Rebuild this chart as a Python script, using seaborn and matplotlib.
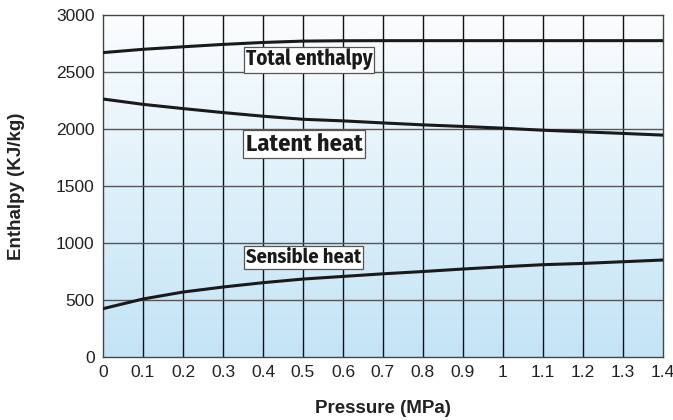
import numpy as np
import pandas as pd
import matplotlib
matplotlib.use("Agg")
import matplotlib.pyplot as plt
import seaborn as sns
from matplotlib.colors import LinearSegmentedColormap

# Data
pressure = [0, 0.1, 0.2, 0.3, 0.4, 0.5, 0.6, 0.7, 0.8, 0.9, 1.0, 1.1, 1.2, 1.3, 1.4]
total_enthalpy = [2671, 2700, 2722, 2743, 2760, 2772, 2775, 2776, 2776, 2776, 2776, 2776, 2776, 2776, 2776]
latent_heat = [2264, 2217, 2180, 2145, 2113, 2086, 2072, 2054, 2037, 2023, 2008, 1990, 1976, 1962, 1947]
sensible_heat = [424, 509, 570, 614, 652, 684, 707, 730, 750, 772, 792, 810, 821, 836, 851]

x_ticks = [0, 0.1, 0.2, 0.3, 0.4, 0.5, 0.6, 0.7, 0.8, 0.9, 1, 1.1, 1.2, 1.3, 1.4]
x_tick_labels = ["0", "0.1", "0.2", "0.3", "0.4", "0.5", "0.6", "0.7", "0.8", "0.9", "1", "1.1", "1.2", "1.3", "1.4"]
y_ticks = [0, 500, 1000, 1500, 2000, 2500, 3000]

df = pd.DataFrame({
    "pressure": pressure * 3,
    "enthalpy": total_enthalpy + latent_heat + sensible_heat,
    "series": ["Total enthalpy"] * 15 + ["Latent heat"] * 15 + ["Sensible heat"] * 15,
})

sns.set_style("white")
plt.rcParams["font.family"] = ["Liberation Sans", "DejaVu Sans"]

fig = plt.figure(figsize=(6.73, 4.2), dpi=100)
ax = fig.add_axes([0.153, 0.15, 0.832, 0.814])

# gradient background
cmap = LinearSegmentedColormap.from_list("bg", ["#c3e4f6", "#fbfdfe"])
grad = np.linspace(0, 1, 256).reshape(-1, 1)
ax.imshow(grad, aspect="auto", cmap=cmap, origin="lower",
          extent=[0, 1.4, 0, 3000], zorder=0)

sns.lineplot(data=df, x="pressure", y="enthalpy", units="series", estimator=None,
             color="#1a1a1a", linewidth=2.2, ax=ax, zorder=3)

ax.set_xlim(0, 1.4)
ax.set_ylim(0, 3000)
ax.set_xticks(x_ticks)
ax.set_xticklabels(x_tick_labels)
ax.set_yticks(y_ticks)
for x in x_ticks[1:-1]:
    ax.axvline(x, color="#111111", linewidth=1.0, zorder=1)
for y in y_ticks[1:-1]:
    ax.axhline(y, color="#555555", linewidth=1.0, zorder=1)

for s in ax.spines.values():
    s.set_color("#444444")
    s.set_linewidth(1.0)
ax.tick_params(axis="both", length=0, labelsize=12.5, colors="#222222", pad=6)

ax.set_xlabel("Pressure (MPa)", fontsize=13.5, fontweight="bold", labelpad=14, color="#222222")
ax.set_ylabel("Enthalpy (KJ/kg)", fontsize=13.5, fontweight="bold", labelpad=22, color="#222222")

narrow = ["Fira Sans Condensed", "Liberation Sans", "DejaVu Sans"]
box = dict(boxstyle="square,pad=0.1", facecolor="white", edgecolor="#555555", linewidth=0.9)
ax.text(0.357, 2610, "Total enthalpy", fontsize=15, fontweight="bold", family=narrow,
        va="center", ha="left", bbox=box, zorder=4, color="#1a1a1a")
ax.text(0.357, 1869, "Latent heat", fontsize=17.5, fontweight="bold", family=narrow,
        va="center", ha="left", bbox=box, zorder=4, color="#1a1a1a")
ax.text(0.357, 874, "Sensible heat", fontsize=14.6, fontweight="bold", family=narrow,
        va="center", ha="left", bbox=box, zorder=4, color="#1a1a1a")

fig.savefig("out.png", dpi=100)
